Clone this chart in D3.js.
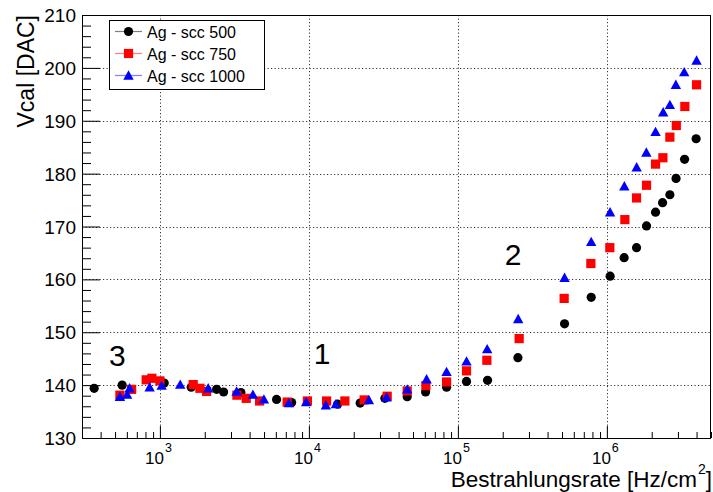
<!DOCTYPE html>
<html>
<head>
<meta charset="utf-8">
<script src="https://cdn.jsdelivr.net/npm/d3@7"></script>
<style>
  html, body { margin: 0; padding: 0; background: #fff; }
  svg { display: block; font-family: "Liberation Sans", Arial, Helvetica, sans-serif; }
</style>
</head>
<body>
<svg id="chart" width="713" height="492"></svg>
<script>
// Irradiation rate [Hz/cm^2] and Vcal [DAC] for three scc settings
const rate500 = [362, 558, 1069, 1622, 2402, 2676, 3497, 6067, 7656, 15580, 22080, 32360, 45700, 60700, 83980,
  114300, 158200, 252900, 520000, 785000, 1052000, 1306000, 1582000, 1846000, 2122000, 2365000, 2648000, 2913000, 3323000, 3973000];
const vcal500 = [139.4, 140.0, 140.4, 139.6, 139.2, 138.7, 138.6, 137.3, 136.7, 136.4, 136.6, 137.5, 137.8, 138.7, 139.6,
  140.7, 140.9, 145.2, 151.6, 156.6, 160.6, 164.1, 166.0, 170.1, 172.7, 174.5, 176.0, 179.1, 182.7, 186.6];

const rate750 = [539, 646, 809, 884, 1000, 1673, 1856, 2058, 3287, 3795, 4668, 7148, 9772, 13150, 17440, 23500, 33540,
  45700, 60980, 83980, 114300, 156500, 257800, 516900, 780800, 1047000, 1321000, 1582000, 1846000, 2122000, 2377000,
  2648000, 2925000, 3338000, 4000000];
const vcal750 = [138.1, 139.2, 141.0, 141.3, 140.8, 140.1, 139.4, 138.8, 138.1, 137.5, 137.0, 136.8, 137.0, 137.0, 137.0, 137.2, 137.9,
  138.9, 139.9, 140.6, 142.7, 144.7, 148.8, 156.4, 163.0, 166.0, 171.3, 175.4, 177.8, 181.8, 183.0,
  186.9, 189.1, 192.7, 196.8];

const rate1000 = [539, 603, 626, 853, 1027, 1369, 2109, 3272, 4209, 4989, 7340, 9592, 13000, 15180, 25280, 33230,
  45700, 61660, 83980, 114300, 157300, 254000, 520000, 785000, 1051000, 1310000, 1585000, 1841000, 2122000, 2388000,
  2648000, 2904000, 3303000, 4000000];
const vcal1000 = [137.8, 138.2, 139.4, 139.6, 139.9, 140.1, 139.4, 138.8, 138.2, 137.3, 136.6, 136.8, 136.2, 136.4, 137.2, 137.7,
  139.2, 141.1, 142.5, 144.5, 146.8, 152.5, 160.3, 167.1, 172.7, 177.6, 181.2, 184.0, 187.9, 191.6,
  193.0, 196.8, 199.2, 201.4];

const seriesNames = ["Ag - scc 500", "Ag - scc 750", "Ag - scc 1000"];
const seriesColors = ["#000000", "#ff0000", "#0000ff"];
const seriesShapes = ["circle", "square", "triangle"];

const xMajorTicks = [1e3, 1e4, 1e5, 1e6];
const xMajorExponents = ["3", "4", "5", "6"];
const yMajorTicks = [130, 140, 150, 160, 170, 180, 190, 200, 210];

const regionLabels = ["3", "1", "2"];
const regionRate = [455, 10800, 206000];
const regionVcal = [143.6, 144.0, 162.8];

const svg = d3.select("#chart");
const plot = { left: 82, top: 15, right: 711, bottom: 438 };

const x = d3.scaleLog().domain([300, 5e6]).range([plot.left, plot.right]);
const y = d3.scaleLinear().domain([130, 210]).range([plot.bottom, plot.top]);

// minor ticks on the log axis (2..9 within each decade)
const xMinorTicks = [];
for (let e = 2; e <= 6; e++) {
  for (let m = 2; m <= 9; m++) {
    const v = m * Math.pow(10, e);
    if (v >= 300 && v <= 5e6) xMinorTicks.push(v);
  }
}
const yMinorTicks = d3.range(130, 210.001, 2).filter(v => v % 10 !== 0);

// dotted grid at major ticks
const grid = svg.append("g").attr("stroke", "#333").attr("stroke-width", 1).attr("stroke-dasharray", "1.2,2.3");
grid.selectAll("line.gx").data(xMajorTicks).join("line")
  .attr("x1", d => Math.round(x(d)) + 0.5).attr("x2", d => Math.round(x(d)) + 0.5)
  .attr("y1", plot.top).attr("y2", plot.bottom);
grid.selectAll("line.gy").data(yMajorTicks.filter(v => v > 130 && v < 210)).join("line")
  .attr("y1", d => Math.round(y(d)) + 0.5).attr("y2", d => Math.round(y(d)) + 0.5)
  .attr("x1", plot.left).attr("x2", plot.right);

// axes
const xAxisMinor = d3.axisTop(x).tickValues(xMinorTicks).tickSize(6).tickFormat("");
const xAxisMajor = d3.axisTop(x).tickValues(xMajorTicks).tickSize(12).tickFormat("");
const yAxisMinor = d3.axisRight(y).tickValues(yMinorTicks).tickSize(9).tickFormat("");
const yAxisMajor = d3.axisRight(y).tickValues(yMajorTicks).tickSize(18).tickFormat("");

[xAxisMinor, xAxisMajor].forEach(ax => {
  svg.append("g").attr("transform", `translate(0,${plot.bottom})`).call(ax)
    .call(g => g.select(".domain").remove())
    .selectAll("line").attr("stroke", "#000");
});
[yAxisMinor, yAxisMajor].forEach(ax => {
  svg.append("g").attr("transform", `translate(${plot.left},0)`).call(ax)
    .call(g => g.select(".domain").remove())
    .selectAll("line").attr("stroke", "#000");
});

// frame
svg.append("rect")
  .attr("x", plot.left + 0.5).attr("y", plot.top + 0.5)
  .attr("width", plot.right - plot.left - 1).attr("height", plot.bottom - plot.top)
  .attr("fill", "none").attr("stroke", "#000").attr("stroke-width", 1);

// y tick labels
svg.append("g").selectAll("text").data(yMajorTicks).join("text")
  .attr("x", 76).attr("y", d => y(d) + 7)
  .attr("text-anchor", "end").attr("font-size", 19).attr("fill", "#000")
  .text(d => d);

// x tick labels as powers of ten: mantissa and raised exponent
const xLabels = svg.append("g");
xLabels.selectAll("text.base").data(xMajorTicks).join("text")
  .attr("class", "base")
  .attr("x", d => x(d) + 4).attr("y", 463.5)
  .attr("text-anchor", "end").attr("font-size", 17).attr("fill", "#000")
  .text("10");
xLabels.selectAll("text.exp").data(xMajorTicks).join("text")
  .attr("class", "exp")
  .attr("x", d => x(d) + 5).attr("y", 452)
  .attr("text-anchor", "start").attr("font-size", 12.5).attr("fill", "#000")
  .text((d, i) => xMajorExponents[i]);

// axis titles
svg.append("text").attr("x", 697).attr("y", 487)
  .attr("text-anchor", "end").attr("font-size", 22.5).attr("fill", "#000")
  .text("Bestrahlungsrate [Hz/cm");
svg.append("text").attr("x", 698).attr("y", 474)
  .attr("text-anchor", "start").attr("font-size", 14).attr("fill", "#000")
  .text("2");
svg.append("text").attr("x", 712).attr("y", 487)
  .attr("text-anchor", "end").attr("font-size", 22.5).attr("fill", "#000")
  .text("]");

svg.append("text").attr("transform", "translate(34,15) rotate(-90)")
  .attr("text-anchor", "end").attr("font-size", 23).attr("fill", "#000")
  .text("Vcal [DAC]");

// markers
function drawMarker(g, shape, color, cx, cy) {
  if (shape === "circle") {
    g.append("circle").attr("cx", cx).attr("cy", cy).attr("r", 4.6).attr("fill", color);
  } else if (shape === "square") {
    g.append("rect").attr("x", cx - 4.6).attr("y", cy - 4.6).attr("width", 9.2).attr("height", 9.2).attr("fill", color);
  } else {
    g.append("path").attr("transform", `translate(${cx},${cy})`)
      .attr("d", "M0,-5.2L5.2,4.2L-5.2,4.2Z").attr("fill", color);
  }
}

const seriesData = [
  d3.zip(rate500, vcal500),
  d3.zip(rate750, vcal750),
  d3.zip(rate1000, vcal1000)
];
seriesData.forEach((pts, i) => {
  const g = svg.append("g").attr("class", "series");
  pts.forEach(([r, v]) => drawMarker(g, seriesShapes[i], seriesColors[i], x(r), y(v)));
});

// region annotations
svg.append("g").selectAll("text").data(regionLabels).join("text")
  .attr("x", (d, i) => x(regionRate[i])).attr("y", (d, i) => y(regionVcal[i]))
  .attr("font-size", 30).attr("fill", "#000")
  .text(d => d);

// legend
const legend = svg.append("g");
legend.append("rect").attr("x", 109.5).attr("y", 20.5).attr("width", 155).attr("height", 69)
  .attr("fill", "#fff").attr("stroke", "#000").attr("stroke-width", 1);
const legendRows = [31.5, 53.5, 75.5];
seriesNames.forEach((name, i) => {
  const ly = legendRows[i];
  legend.append("line").attr("x1", 115).attr("x2", 142).attr("y1", ly).attr("y2", ly)
    .attr("stroke", seriesColors[i]).attr("stroke-opacity", 0.5).attr("stroke-width", 1.2);
  drawMarker(legend, seriesShapes[i], seriesColors[i], 128.5, ly);
  legend.append("text").attr("x", 147).attr("y", ly + 6).attr("font-size", 16).attr("fill", "#000").text(name);
});
</script>
</body>
</html>
